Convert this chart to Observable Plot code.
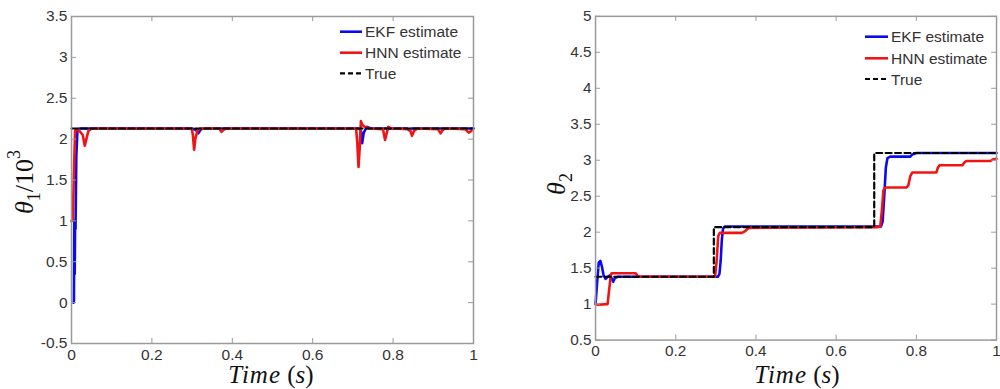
<!DOCTYPE html>
<html>
<head>
<meta charset="utf-8">
<script src="https://cdn.jsdelivr.net/npm/d3@7"></script>
<script src="https://cdn.jsdelivr.net/npm/@observablehq/plot@0.6"></script>
<style>
  html, body { margin: 0; padding: 0; background: #fff; }
  body { width: 1000px; height: 389px; overflow: hidden; position: relative; }
  #left, #right { position: absolute; top: 0; }
  #left { left: 0; }
  #right { left: 500px; }
  #left svg text, #right svg text { font-size: 15.5px; fill: #333; }
  #overlay { position: absolute; left: 0; top: 0; pointer-events: none; }
</style>
</head>
<body>
<div id="left"></div>
<div id="right"></div>
<svg id="overlay" width="1000" height="389"></svg>
<script>
// ---------- shared ----------
const xTicks = [0, 0.2, 0.4, 0.6, 0.8, 1];
const legendLabels = ["EKF estimate", "HNN estimate", "True"];
const colEKF = "#0a0af0";
const colHNN = "#f01414";
const colTrue = "#000000";

// ---------- left panel: theta1 / 10^3 ----------
const y1Ticks = [-0.5, 0, 0.5, 1, 1.5, 2, 2.5, 3, 3.5];
const true1T = [0, 1];
const true1V = [2.13, 2.13];
const ekf1T = [0.005, 0.006, 0.007, 0.008, 0.009, 0.010, 0.012, 0.015, 0.02, 0.30, 0.31, 0.315, 0.322, 0.33, 0.715, 0.72, 0.723, 0.727, 0.735, 0.745, 0.835, 0.84, 0.845, 1.0];
const ekf1V = [0, 0.02, 1.0, 0.35, 1.0, 0.9, 1.8, 2.12, 2.13, 2.13, 2.11, 2.07, 2.12, 2.13, 2.13, 2.10, 1.95, 2.08, 2.15, 2.13, 2.13, 2.11, 2.13, 2.13];
const hnn1T = [0, 0.003, 0.006, 0.009, 0.012, 0.02, 0.028, 0.033, 0.037, 0.042, 0.05, 0.299, 0.302, 0.305, 0.308, 0.313, 0.32, 0.368, 0.373, 0.38, 0.388, 0.708, 0.711, 0.714, 0.717, 0.72, 0.724, 0.73, 0.74, 0.775, 0.78, 0.783, 0.788, 0.795, 0.842, 0.847, 0.852, 0.86, 0.912, 0.918, 0.923, 0.93, 0.98, 0.988, 0.995];
const hnn1V = [1.0, 1.0, 1.6, 2.1, 2.12, 2.1, 2.05, 1.92, 2.0, 2.1, 2.13, 2.13, 2.05, 1.87, 2.0, 2.1, 2.13, 2.13, 2.09, 2.12, 2.13, 2.13, 1.95, 1.66, 1.9, 2.22, 2.17, 2.15, 2.13, 2.12, 1.99, 2.05, 2.15, 2.13, 2.12, 2.04, 2.1, 2.13, 2.12, 2.07, 2.11, 2.13, 2.12, 2.08, 2.1];

// ---------- right panel: theta2 ----------
const y2Ticks = [0.5, 1, 1.5, 2, 2.5, 3, 3.5, 4, 4.5, 5];
const true2T = [0, 0.295, 0.295, 0.695, 0.695, 1];
const true2V = [1.38, 1.38, 2.07, 2.07, 3.1, 3.1];
const ekf2T = [0, 0.004, 0.008, 0.012, 0.016, 0.02, 0.025, 0.03, 0.036, 0.04, 0.044, 0.048, 0.055, 0.305, 0.309, 0.312, 0.315, 0.318, 0.322, 0.33, 0.712, 0.716, 0.72, 0.724, 0.728, 0.735, 0.785, 0.79, 0.8, 1];
const ekf2V = [1.0, 1.3, 1.58, 1.6, 1.52, 1.4, 1.35, 1.38, 1.4, 1.36, 1.31, 1.36, 1.38, 1.38, 1.42, 1.6, 1.9, 2.05, 2.08, 2.08, 2.08, 2.15, 2.5, 2.9, 3.03, 3.05, 3.05, 3.08, 3.1, 3.1];
const hnn2T = [0, 0.005, 0.03, 0.034, 0.038, 0.04, 0.1, 0.104, 0.108, 0.298, 0.302, 0.306, 0.31, 0.365, 0.372, 0.38, 0.385, 0.705, 0.71, 0.714, 0.718, 0.722, 0.775, 0.78, 0.785, 0.79, 0.85, 0.854, 0.858, 0.915, 0.92, 0.925, 0.985, 0.99, 1.0];
const hnn2V = [1.0, 0.99, 1.0, 1.2, 1.4, 1.43, 1.43, 1.40, 1.38, 1.38, 1.6, 1.95, 1.99, 1.99, 2.01, 2.05, 2.06, 2.07, 2.08, 2.3, 2.58, 2.62, 2.62, 2.65, 2.78, 2.83, 2.83, 2.9, 2.93, 2.93, 2.97, 2.99, 2.99, 3.01, 3.02];

const rows = (T, V) => T.map((t, i) => ({t, v: V[i]}));

function panel({width, marginLeft, marginRight, yDomain, yTicks, ekf, hnn, tru}) {
  const height = 389, marginTop = 16, marginBottom = 46;
  const pw = width - marginLeft - marginRight;
  const ph = height - marginTop - marginBottom;
  const tickLen = 5, axisCol = "#9a9a9a";
  return Plot.plot({
    width, height, marginLeft, marginRight, marginTop, marginBottom,
    style: {fontFamily: "'Liberation Sans', Arial, sans-serif", fontSize: "15.5px", color: "#333", background: "transparent", overflow: "visible"},
    x: {domain: [0, 1], ticks: xTicks, tickFormat: d => String(d), tickSize: 0, tickPadding: 5, label: null},
    y: {domain: yDomain, ticks: yTicks, tickFormat: d => String(d), tickSize: 0, tickPadding: 4, label: null},
    marks: [
      Plot.line(ekf, {x: "t", y: "v", stroke: colEKF, strokeWidth: 2.6}),
      Plot.line(hnn, {x: "t", y: "v", stroke: colHNN, strokeWidth: 2.6}),
      Plot.line(tru, {x: "t", y: "v", stroke: colTrue, strokeWidth: 2.2, strokeDasharray: "6,3.5"}),
      Plot.ruleX(xTicks, {x: d => d, insetTop: ph - tickLen, stroke: axisCol, strokeWidth: 1}),
      Plot.ruleX(xTicks, {x: d => d, insetBottom: ph - tickLen, stroke: axisCol, strokeWidth: 1}),
      Plot.ruleY(yTicks, {y: d => d, insetRight: pw - tickLen, stroke: axisCol, strokeWidth: 1}),
      Plot.ruleY(yTicks, {y: d => d, insetLeft: pw - tickLen, stroke: axisCol, strokeWidth: 1}),
      Plot.frame({stroke: axisCol, strokeWidth: 1.5})
    ]
  });
}

document.getElementById("left").append(panel({
  width: 500, marginLeft: 71, marginRight: 27,
  yDomain: [-0.5, 3.5], yTicks: y1Ticks,
  ekf: rows(ekf1T, ekf1V), hnn: rows(hnn1T, hnn1V), tru: rows(true1T, true1V)
}));
document.getElementById("right").append(panel({
  width: 505, marginLeft: 96, marginRight: 4,
  yDomain: [0.5, 5], yTicks: y2Ticks,
  ekf: rows(ekf2T, ekf2V), hnn: rows(hnn2T, hnn2V), tru: rows(true2T, true2V)
}));

// ---------- overlay: axis titles and legends ----------
const ov = d3.select("#overlay");
const serif = "'Liberation Serif', 'Times New Roman', serif";

function yTitle(cx, cy, sub, sup, tail) {
  const t = ov.append("text")
    .attr("transform", `translate(${cx},${cy}) rotate(-90)`)
    .attr("text-anchor", "middle").attr("dominant-baseline", "central")
    .attr("font-family", serif).attr("font-size", 26).attr("fill", "#111");
  t.append("tspan").attr("font-style", "italic").text("θ");
  t.append("tspan").attr("font-size", 18).attr("baseline-shift", "sub").text(sub);
  if (tail) t.append("tspan").text(tail);
  if (sup) t.append("tspan").attr("font-size", 18).attr("baseline-shift", "super").text(sup);
}
yTitle(24, 182, "1", "3", "/10");
yTitle(556, 184, "2", null, null);

function xTitle(cx) {
  const t = ov.append("text").attr("x", cx).attr("y", 383)
    .attr("text-anchor", "middle").attr("font-family", serif)
    .attr("font-size", 25).attr("fill", "#111");
  t.append("tspan").attr("font-style", "italic").attr("letter-spacing", 1).text("Time");
  t.append("tspan").text(" (");
  t.append("tspan").attr("font-style", "italic").text("s");
  t.append("tspan").text(")");
}
xTitle(271);
xTitle(797);

function legend(x0, x1, tx, ys) {
  const styles = [
    {stroke: colEKF, w: 2.6, dash: null},
    {stroke: colHNN, w: 2.6, dash: null},
    {stroke: colTrue, w: 2.2, dash: "5,3"}
  ];
  legendLabels.forEach((lab, i) => {
    const s = styles[i];
    const l = ov.append("line").attr("x1", x0).attr("x2", x1).attr("y1", ys[i]).attr("y2", ys[i])
      .attr("stroke", s.stroke).attr("stroke-width", s.w);
    if (s.dash) l.attr("stroke-dasharray", s.dash);
    ov.append("text").attr("x", tx).attr("y", ys[i]).attr("dy", "0.36em")
      .attr("font-family", "'Liberation Sans', Arial, sans-serif").attr("font-size", 15.5)
      .attr("fill", "#333").text(lab);
  });
}
legend(340, 362, 365, [31.7, 52.7, 73.3]);
legend(865, 888, 891, [36.7, 58.3, 79]);
</script>
</body>
</html>
